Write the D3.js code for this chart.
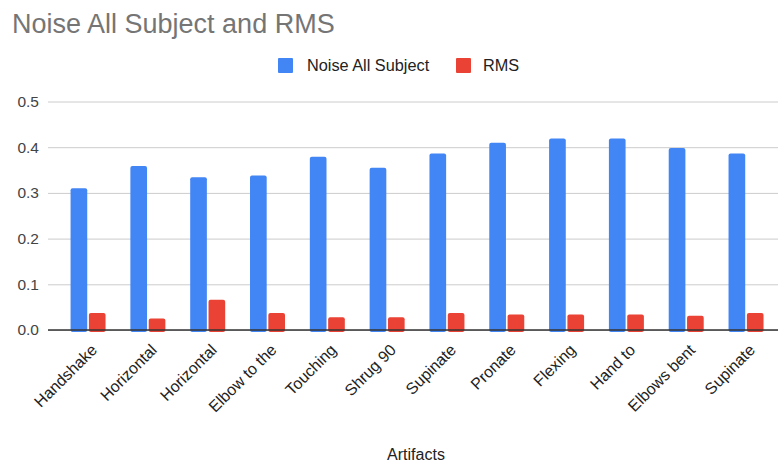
<!DOCTYPE html>
<html>
<head>
<meta charset="utf-8">
<script src="https://cdn.jsdelivr.net/npm/d3@7"></script>
<style>
  body { margin: 0; background: #fff; }
  svg { display: block; font-family: Arial, "Liberation Sans", sans-serif; }
</style>
</head>
<body>
<svg id="chart" width="778" height="463"></svg>
<script>
const categories = ["Handshake", "Horizontal", "Horizontal", "Elbow to the", "Touching", "Shrug 90",
    "Supinate", "Pronate", "Flexing", "Hand to", "Elbows bent", "Supinate"]
const noiseAll = [0.310, 0.359, 0.334, 0.338, 0.379, 0.355, 0.386, 0.410, 0.419, 0.419, 0.398, 0.386]
const rms = [0.037, 0.025, 0.066, 0.037, 0.028, 0.028, 0.037, 0.034, 0.034, 0.034, 0.031, 0.037]
const yTicks = [0, 0.1, 0.2, 0.3, 0.4, 0.5]
const seriesNames = ["Noise All Subject", "RMS"]
const colors = ["#4285f4", "#ea4335"]

let width = 778
let height = 463
let margin = ({top: 101.5, right: 2.5, bottom: 133, left: 58.6})

const svg = d3.select("#chart")

let x = d3.scaleBand()
    .domain(d3.range(categories.length))
    .range([margin.left, width - margin.right])
    .paddingInner(0.415)
    .paddingOuter(0.2)
let x1 = d3.scaleBand()
    .domain([0, 1])
    .range([0, x.bandwidth()])
    .paddingInner(0.09)
let y = d3.scaleLinear()
    .domain([0, 0.5])
    .range([height - margin.bottom, margin.top])

// title
svg.append("text")
    .attr("x", 12)
    .attr("y", 33)
    .attr("font-size", 27)
    .attr("fill", "#757575")
    .text("Noise All Subject and RMS")

// legend
let legend = svg.append("g")
let legendItems = [{x: 278, tx: 307}, {x: 456, tx: 483}]
seriesNames.forEach((name, i) => {
    legend.append("rect")
        .attr("x", legendItems[i].x)
        .attr("y", 58)
        .attr("width", 15)
        .attr("height", 15)
        .attr("rx", 1)
        .attr("fill", colors[i])
    legend.append("text")
        .attr("x", legendItems[i].tx)
        .attr("y", 71)
        .attr("font-size", 16.3)
        .attr("fill", "#222")
        .text(name)
})

// grid + y labels
let yAxis = g => g
    .attr("transform", `translate(48,0)`)
    .call(d3.axisLeft(y).tickValues(yTicks).tickFormat(d3.format(".1f"))
        .tickSize(-(width - 48)).tickPadding(9))
    .call(g => g.select(".domain").remove())
    .call(g => g.selectAll(".tick line").attr("stroke", "#ccc"))
    .call(g => g.selectAll(".tick text")
        .attr("font-size", 15.5)
        .attr("fill", "#444")
        .attr("font-family", "Arial, 'Liberation Sans', sans-serif"))

svg.append("g").call(yAxis)

// bars
let data = categories.map((c, i) => [noiseAll[i], rms[i]])
svg.append("g")
    .selectAll("g")
    .data(data)
    .join("g")
    .attr("transform", (d, i) => `translate(${x(i)},0)`)
    .selectAll("rect")
    .data(d => d)
    .join("rect")
    .attr("x", (d, j) => x1(j))
    .attr("y", d => y(d))
    .attr("width", x1.bandwidth())
    .attr("height", d => y(0) - y(d) + 2)
    .attr("rx", 2)
    .attr("fill", (d, j) => colors[j])

// baseline
svg.append("line")
    .attr("x1", 48)
    .attr("x2", width)
    .attr("y1", y(0))
    .attr("y2", y(0))
    .attr("stroke", "#333")
    .attr("stroke-width", 1.5)

// x labels
svg.append("g")
    .selectAll("text")
    .data(categories)
    .join("text")
    .attr("text-anchor", "end")
    .attr("font-size", 16)
    .attr("fill", "#222")
    .attr("transform", (d, i) => `translate(${x(i) + x.bandwidth() / 2 + 10},${y(0) + 21}) rotate(-45)`)
    .text(d => d)

// x axis title
svg.append("text")
    .attr("x", 416)
    .attr("y", 460)
    .attr("text-anchor", "middle")
    .attr("font-size", 16)
    .attr("fill", "#222")
    .text("Artifacts")
</script>
</body>
</html>
